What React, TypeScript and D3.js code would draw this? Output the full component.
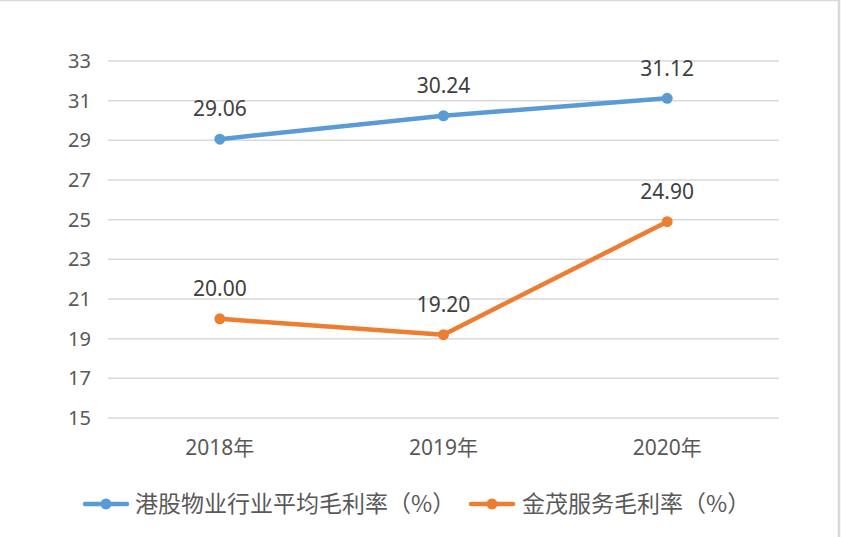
import { useMemo } from "react";
import * as d3 from "d3";

const WIDTH = 841;
const HEIGHT = 537;
const MARGIN = { top: 61, right: 62, bottom: 119, left: 108 };

const years = ["2018年", "2019年", "2020年"];
const hkAvg = [29.06, 30.24, 31.12];
const jinmao = [20.0, 19.2, 24.9];
const yTicks = [15, 17, 19, 21, 23, 25, 27, 29, 31, 33];

const SERIES = [
  { name: "港股物业行业平均毛利率（%）", values: hkAvg, color: "#5b9bd5" },
  { name: "金茂服务毛利率（%）", values: jinmao, color: "#ed7d31" },
];

const FONT = "'Noto Sans', 'Noto Sans CJK SC', sans-serif";

export default function App() {
  const boundsWidth = WIDTH - MARGIN.left - MARGIN.right;
  const boundsHeight = HEIGHT - MARGIN.top - MARGIN.bottom;

  const xScale = useMemo(
    () => d3.scalePoint<string>().domain(years).range([0, boundsWidth]).padding(0.5),
    [boundsWidth]
  );
  const yScale = useMemo(
    () => d3.scaleLinear().domain([15, 33]).range([boundsHeight, 0]),
    [boundsHeight]
  );

  const line = d3
    .line<number>()
    .x((_, i) => xScale(years[i]) as number)
    .y((d) => yScale(d));

  // legend positions
  const legendItems = [
    { x: 85, textX: 135 },
    { x: 471, textX: 522 },
  ];

  return (
    <div style={{ position: "absolute", left: 0, top: 0 }}>
      <svg width={WIDTH} height={HEIGHT} style={{ display: "block", fontFamily: FONT }}>
        <rect x={0} y={0} width={WIDTH} height={HEIGHT} fill="#fff" />
        {/* chart frame */}
        <line x1={0} x2={840} y1={0.5} y2={0.5} stroke="#d9d9d9" strokeWidth={1.5} />
        <line x1={839} x2={839} y1={0} y2={HEIGHT} stroke="#d9d9d9" strokeWidth={2.5} />

        <g transform={`translate(${MARGIN.left},${MARGIN.top})`}>
          {yTicks.map((t) => (
            <g key={t}>
              <line
                x1={0}
                x2={boundsWidth}
                y1={yScale(t)}
                y2={yScale(t)}
                stroke="#d9d9d9"
                strokeWidth={1.5}
              />
              <text
                x={-17}
                y={yScale(t)}
                dy="0.35em"
                textAnchor="end"
                fontSize={20}
                fill="#595959"
              >
                {t}
              </text>
            </g>
          ))}

          {years.map((y) => (
            <text
              key={y}
              x={xScale(y)}
              y={boundsHeight + 30}
              dy="0.35em"
              textAnchor="middle"
              fontSize={21}
              fill="#595959"
            >
              {y}
            </text>
          ))}

          {SERIES.map((s) => (
            <g key={s.name}>
              <path
                d={line(s.values) ?? ""}
                fill="none"
                stroke={s.color}
                strokeWidth={4.5}
                strokeLinejoin="round"
                strokeLinecap="round"
              />
              {s.values.map((v, i) => (
                <g key={i}>
                  <circle cx={xScale(years[i])} cy={yScale(v)} r={5.5} fill={s.color} />
                  <text
                    x={xScale(years[i])}
                    y={yScale(v) - 30}
                    dy="0.35em"
                    textAnchor="middle"
                    fontSize={21}
                    fill="#404040"
                  >
                    {v.toFixed(2)}
                  </text>
                </g>
              ))}
            </g>
          ))}
        </g>

        {/* legend */}
        {SERIES.map((s, i) => (
          <g key={s.name}>
            <line
              x1={legendItems[i].x}
              x2={legendItems[i].x + 42}
              y1={504}
              y2={504}
              stroke={s.color}
              strokeWidth={4.5}
              strokeLinecap="round"
            />
            <circle cx={legendItems[i].x + 21} cy={504} r={5.5} fill={s.color} />
            <text
              x={legendItems[i].textX}
              y={504}
              dy="0.35em"
              fontSize={23}
              fill="#595959"
              style={{ fontFamily: "'Noto Sans CJK SC', sans-serif" }}
            >
              {s.name}
            </text>
          </g>
        ))}
      </svg>
    </div>
  );
}
